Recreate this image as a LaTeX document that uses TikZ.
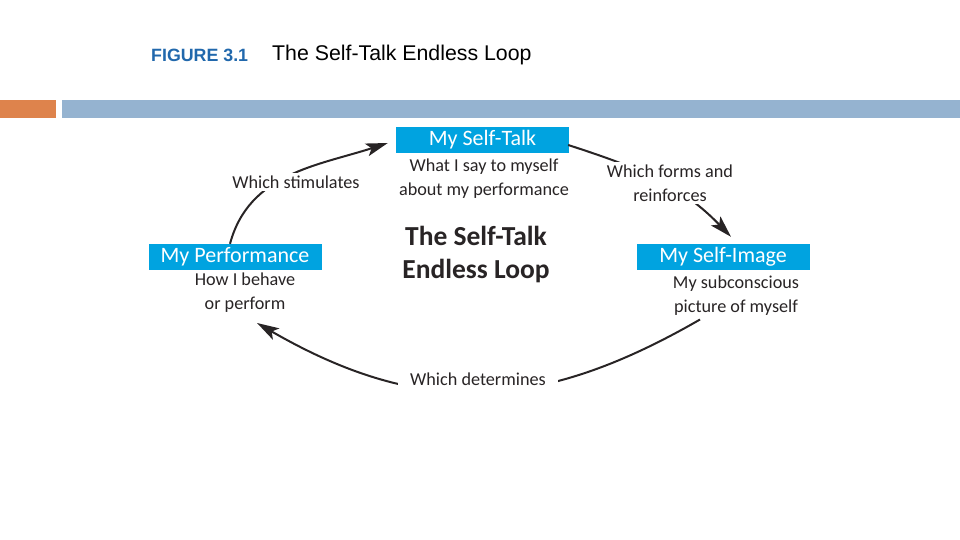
\documentclass[tikz,border=0pt]{standalone}
\usepackage{fontspec}
\setmainfont{Carlito}
\newfontfamily\arialfont{Liberation Sans}
\usetikzlibrary{arrows.meta,calc}
\definecolor{figblue}{RGB}{33,104,172}
\definecolor{boxcyan}{RGB}{0,163,224}
\definecolor{barorange}{RGB}{222,131,76}
\definecolor{bargray}{RGB}{149,179,208}
\definecolor{txtdark}{RGB}{40,36,37}
\tikzset{
  hdrbox/.style={fill=boxcyan, text=white, minimum width=173pt, minimum height=26pt, inner sep=0pt,
    font=\fontsize{22}{24}\selectfont},
  desc/.style={text=txtdark, align=center, inner sep=0pt, font=\fontsize{18.2}{24}\selectfont},
  lbl/.style={text=txtdark, align=center, fill=white, inner sep=3pt, font=\fontsize{18.2}{24}\selectfont},
  loop/.style={draw=txtdark, line width=2pt, -{Stealth[length=22pt,width=13pt,inset=5pt]}},
}
\begin{document}
\begin{tikzpicture}[x=1pt,y=-1pt]
\useasboundingbox (0,0) rectangle (960,540);
% header
\node[anchor=west, text=figblue, font=\arialfont\bfseries\fontsize{17.8}{20}\selectfont, inner sep=0pt] (fig) at (151,55) {FIGURE 3.1};
\node[anchor=west, text=black, font=\arialfont\fontsize{21.3}{24}\selectfont, inner sep=0pt] (ttl) at (272,55) {The Self-Talk Endless Loop};
\fill[barorange] (0,100) rectangle (56,118);
\fill[bargray] (62,100) rectangle (960,118);
% boxes
\node[hdrbox] (talk) at (482.5,140) {My Self-Talk};
\node[hdrbox] (perf) at (235,257) {My Performance};
\node[hdrbox] (image) at (723,257) {My Self-Image};
% descriptions
\node[desc] (talkd) at (484,179) {What I say to myself\\about my performance};
\node[desc] (perfd) at (245,293) {How I behave\\or perform};
\node[desc] (imaged) at (736,295.5) {My subconscious\\picture of myself};
\node[align=center, text=txtdark, inner sep=0pt, font=\bfseries\fontsize{27.5}{33}\selectfont] (center) at (476,255) {The Self-Talk\\Endless Loop};
% connectors
\draw[loop] ($(perf.north)+(-5,0)$) to[out=75,in=198] ($(talk.west)+(-8,3)$);
\draw[loop] ($(talk.east)+(-1,5)$) to[out=-18,in=134] ($(image.north)+(8,-7)$);
\draw[loop] ($(imaged.center)+(-36,24)$) to[out=210,in=-30,looseness=1.08] ($(perfd.center)+(12,30)$);
% connector labels
\node[lbl] (stim) at (296,182) {Which stimulates};
\node[lbl] (forms) at (670,183) {Which forms and\\reinforces};
\node[lbl, inner xsep=12pt, inner ysep=14pt] (det) at (478,379) {Which determines};
\end{tikzpicture}
\end{document}
